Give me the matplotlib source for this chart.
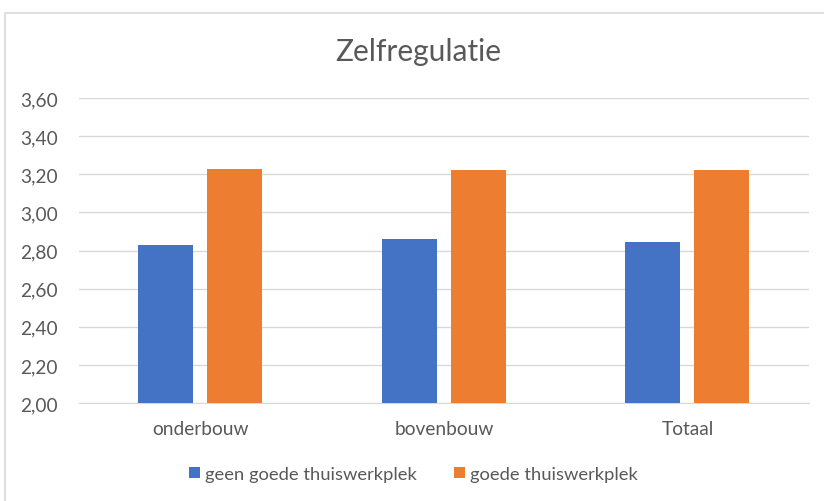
import matplotlib.pyplot as plt
import numpy as np
from matplotlib.patches import Rectangle

# data
categories = ["onderbouw", "bovenbouw", "Totaal"]
geen_goede = [2.83, 2.86, 2.845]
goede = [3.225, 3.22, 3.22]
series_names = ["geen goede thuiswerkplek", "goede thuiswerkplek"]
yticks = [2.0, 2.2, 2.4, 2.6, 2.8, 3.0, 3.2, 3.4, 3.6]

plt.rcParams['font.family'] = ['Lato', 'DejaVu Sans']

fig = plt.figure(figsize=(8.24, 5.02), dpi=100)
ax = fig.add_axes([0.0953, 0.1952, 0.8867, 0.6076])

# chart border (cut off on right and bottom)
fig.patches.append(Rectangle((5 / 824, -0.1), 1.2, 1 - 14 / 502 + 0.1,
                             transform=fig.transFigure, fill=False,
                             edgecolor='#d9d9d9', linewidth=1.2))

x = np.arange(len(categories))
w = 0.226
off = 0.142
ax.bar(x - off, np.array(geen_goede) - 2.0, w, bottom=2.0, color='#4472c4',
       label=series_names[0], zorder=3)
ax.bar(x + off, np.array(goede) - 2.0, w, bottom=2.0, color='#ed7d31',
       label=series_names[1], zorder=3)

ax.set_xlim(-0.5, 2.5)
ax.set_ylim(2.0, 3.6)
ax.set_yticks(yticks)
ax.set_yticklabels([f"{v:.2f}".replace('.', ',') for v in yticks])
ax.set_xticks(x)
ax.set_xticklabels(categories)
ax.grid(axis='y', color='#d9d9d9', linewidth=1, zorder=0)
for s in ['top', 'right', 'left']:
    ax.spines[s].set_visible(False)
ax.spines['bottom'].set_color('#d9d9d9')
ax.tick_params(axis='both', length=0, colors='#595959', labelsize=13.8)
ax.tick_params(axis='y', pad=15)
ax.tick_params(axis='x', pad=12)

fig.text(0.507, 1 - 52 / 502, "Zelfregulatie", ha='center', va='center',
         fontsize=21.5, color='#595959')

fig.legend(loc='center', bbox_to_anchor=(0.502, 1 - 475 / 502), ncol=2,
           frameon=False, fontsize=13.2, handlelength=0.6, handleheight=0.6,
           handletextpad=0.3, columnspacing=2.0, labelcolor='#595959')

fig.savefig('out.png', dpi=100)
